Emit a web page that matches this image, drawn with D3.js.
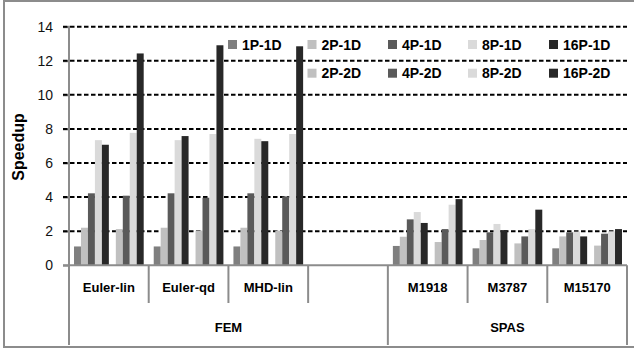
<!DOCTYPE html>
<html lang="en">
<head>
<meta charset="utf-8">
<title>Speedup</title>

<!-- Load d3.js -->
<script src="https://d3js.org/d3.v7.min.js"></script>

<style>
	body {
		margin: 0;
		font-family: 'Liberation Sans', Arial, sans-serif;
		background: white;
	}
	.ytick text {
		font-size: 14px;
	}
	.catlabel, .grouplabel {
		font-size: 13px;
		font-weight: bold;
	}
	.legend text {
		font-size: 14px;
		font-weight: bold;
	}
</style>
</head>
<body>
<div id="my_dataviz"></div>

<script>

// categories along the x axis (the 4th one is an empty slot in the FEM group)
var categories = ["Euler-lin", "Euler-qd", "MHD-lin", "", "M1918", "M3787", "M15170"];
var groups = ["FEM", "SPAS"];
var groupSizes = [4, 3];

// bar slots inside one category; 1P-2D has no bars, it only leaves a gap
var slots = ["1P-1D", "2P-1D", "4P-1D", "8P-1D", "16P-1D", "1P-2D", "2P-2D", "4P-2D", "8P-2D", "16P-2D"];
var legendNames = ["1P-1D", "2P-1D", "4P-1D", "8P-1D", "16P-1D", "2P-2D", "4P-2D", "8P-2D", "16P-2D"];

// values, one per category
var s1P1D  = [1.1, 1.1, 1.1, null, 1.13, 0.99, 0.99];
var s2P1D  = [2.2, 2.2, 2.2, null, 1.67, 1.48, 1.69];
var s4P1D  = [4.22, 4.22, 4.22, null, 2.69, 1.93, 1.93];
var s8P1D  = [7.34, 7.34, 7.42, null, 3.12, 2.42, 1.97];
var s16P1D = [7.07, 7.58, 7.28, null, 2.48, 2.06, 1.69];
var s2P2D  = [2.12, 2.03, 2.03, null, 1.36, 1.28, 1.15];
var s4P2D  = [4.08, 3.96, 4.04, null, 2.12, 1.69, 1.85];
var s8P2D  = [7.77, 7.7, 7.7, null, 3.55, 2.12, 1.99];
var s16P2D = [12.43, 12.91, 12.85, null, 3.88, 3.26, 2.12];

var yTicks = [0, 2, 4, 6, 8, 10, 12, 14];

var seriesValues = new Map([
	["1P-1D", s1P1D], ["2P-1D", s2P1D], ["4P-1D", s4P1D], ["8P-1D", s8P1D], ["16P-1D", s16P1D],
	["2P-2D", s2P2D], ["4P-2D", s4P2D], ["8P-2D", s8P2D], ["16P-2D", s16P2D]
]);

var colours = {
	"1P": "#7f7f7f",
	"2P": "#c0c0c0",
	"4P": "#5a5a5a",
	"8P": "#dadada",
	"16P": "#282828",
	axis: "#8c8c8c"
};
function colourOf(name) { return colours[name.split("-")[0]]; }

var W = 634, H = 351;
var plot = {left: 69, right: 627, top: 26.7, bottom: 265.2};

var svg = d3.select("#my_dataviz")
  .append("svg")
	.attr("width", W)
	.attr("height", H);

// outer frame of the chart (right edge is cut off in the picture)
svg.append("rect")
	.attr("x", 4).attr("y", 1)
	.attr("width", 660).attr("height", 346)
	.attr("fill", "white")
	.attr("stroke", colours.axis)
	.attr("stroke-width", 2);

// scales
var y = d3.scaleLinear()
	.domain([0, 14])
	.range([plot.bottom, plot.top]);

var x0 = d3.scaleBand()
	.domain(categories)
	.range([plot.left, plot.right])
	.padding(0);

var x1 = d3.scaleBand()
	.domain(slots)
	.range([0, x0.bandwidth()])
	.paddingInner(0)
	.paddingOuter(0.72);

// y axis with gray ticks
var yAxis = svg.append("g")
	.attr("class", "ytick")
	.attr("transform", "translate(" + plot.left + ",0)")
	.call(d3.axisLeft(y).tickValues(yTicks).tickSize(6).tickPadding(10));
yAxis.select(".domain").remove();
yAxis.selectAll("line").attr("stroke", colours.axis).attr("stroke-width", 2);
yAxis.selectAll("text").attr("fill", "#111").style("font-family", "'Liberation Sans', Arial, sans-serif");

// dashed gridlines
svg.append("g")
	.selectAll("line")
	.data(yTicks.filter(function(d) { return d > 0; }))
	.join("line")
	.attr("x1", plot.left - 6)
	.attr("x2", plot.right)
	.attr("y1", function(d) { return y(d); })
	.attr("y2", function(d) { return y(d); })
	.attr("stroke", "black")
	.attr("stroke-width", 2)
	.attr("stroke-dasharray", "4.5,2.5");

// bars
var cat = svg.append("g")
	.selectAll("g")
	.data(categories)
	.join("g")
	.attr("transform", function(d) { return "translate(" + x0(d) + ",0)"; });

cat.selectAll("rect")
	.data(function(d, i) {
		return legendNames.map(function(n) { return {name: n, value: seriesValues.get(n)[i]}; })
			.filter(function(e) { return e.value != null; });
	})
	.join("rect")
	.attr("x", function(d) { return x1(d.name); })
	.attr("width", x1.bandwidth())
	.attr("y", function(d) { return y(d.value); })
	.attr("height", function(d) { return y(0) - y(d.value); })
	.attr("fill", function(d) { return colourOf(d.name); });

// x axis line and category separators
var axisBottom = 345;
svg.append("line")
	.attr("x1", plot.left - 6).attr("x2", plot.right)
	.attr("y1", y(0)).attr("y2", y(0))
	.attr("stroke", colours.axis).attr("stroke-width", 2);

svg.append("line")
	.attr("x1", plot.left).attr("x2", plot.left)
	.attr("y1", plot.top - 1).attr("y2", axisBottom)
	.attr("stroke", colours.axis).attr("stroke-width", 2);

// boundaries between categories; the ones between groups reach lower
var groupEdges = [0];
groupSizes.forEach(function(s, i) { groupEdges.push(groupEdges[i] + s); });

svg.append("g")
	.selectAll("line")
	.data(d3.range(1, categories.length + 1))
	.join("line")
	.attr("x1", function(i) { return plot.left + i * x0.step(); })
	.attr("x2", function(i) { return plot.left + i * x0.step(); })
	.attr("y1", y(0))
	.attr("y2", function(i) { return groupEdges.indexOf(i) >= 0 ? axisBottom : 303; })
	.attr("stroke", colours.axis)
	.attr("stroke-width", 2);

// category labels
svg.append("g")
	.selectAll("text")
	.data(categories)
	.join("text")
	.attr("class", "catlabel")
	.attr("x", function(d) { return x0(d) + x0.bandwidth() / 2; })
	.attr("y", 292)
	.attr("text-anchor", "middle")
	.text(function(d) { return d; });

// group labels
svg.append("g")
	.selectAll("text")
	.data(groups)
	.join("text")
	.attr("class", "grouplabel")
	.attr("x", function(d, i) { return plot.left + (groupEdges[i] + groupEdges[i + 1]) / 2 * x0.step(); })
	.attr("y", 332)
	.attr("text-anchor", "middle")
	.text(function(d) { return d; });

// y label
svg.append("text")
	.attr("transform", "translate(24,147) rotate(-90)")
	.attr("text-anchor", "middle")
	.style("font-size", "16px")
	.style("font-weight", "bold")
	.text("Speedup");

// legend: row one holds the 1D runs, row two the 2D runs shifted one column
var legendCols = [228, 307.5, 388, 468, 549];
var legend = svg.append("g")
	.attr("class", "legend")
	.selectAll("g")
	.data(legendNames)
	.join("g")
	.attr("transform", function(d, i) {
		var col = i < 5 ? i : i - 4;
		var row = i < 5 ? 0 : 1;
		return "translate(" + legendCols[col] + "," + (40 + row * 28.7) + ")";
	});

legend.append("rect")
	.attr("width", 9).attr("height", 9)
	.attr("fill", function(d) { return colourOf(d); });

legend.append("text")
	.attr("x", 14)
	.attr("y", 9.5)
	.text(function(d) { return d; });

</script>
</body>
</html>
